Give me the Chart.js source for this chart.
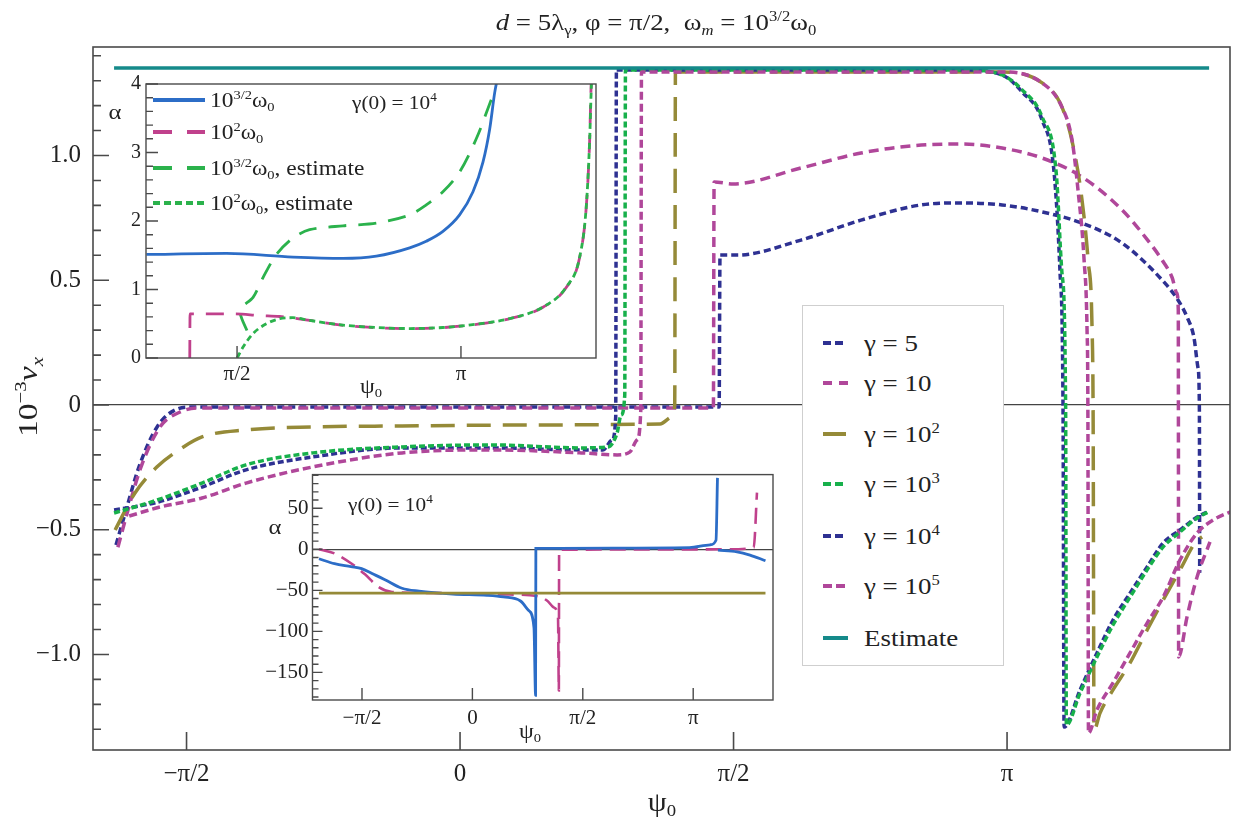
<!DOCTYPE html>
<html>
<head>
<meta charset="utf-8">
<script src="https://cdn.jsdelivr.net/npm/chart.js@4.4.1/dist/chart.umd.min.js"></script>
<style>
  html, body { margin: 0; padding: 0; background: #fff; }
  #page { position: relative; width: 1243px; height: 820px; overflow: hidden;
          font-family: "Liberation Serif", "Times New Roman", serif; color: #222; }
  canvas { position: absolute; }
  .lbl { position: absolute; white-space: nowrap; line-height: 1; transform: translate(-50%, -50%) scaleX(1.12); }
  .row { position: absolute; white-space: nowrap; line-height: 1; transform-origin: 0 50%;
         transform: translateY(-50%) scaleX(1.17); }
  sup { font-size: 62%; vertical-align: 0.62em; line-height: 0; }
  sub { font-size: 62%; vertical-align: -0.32em; line-height: 0; }
  .smp { position: absolute; height: 4px; transform: translateY(-50%); }
  #legend { position: absolute; left: 802px; top: 305px; width: 200px; height: 359px;
            background: #fff; border: 1px solid #cfcfcf; }
</style>
</head>
<body>
<div id="page">
  <canvas id="cMain" width="1243" height="820" style="left:0;top:0;width:1243px;height:820px"></canvas>
  <canvas id="cIn1" width="506" height="325" style="left:100px;top:67px;width:506px;height:325px"></canvas>
  <canvas id="cIn2" width="533" height="276" style="left:250px;top:458px;width:533px;height:276px"></canvas>

  <!-- titles -->
  <div class="lbl" style="left:656px;top:22px;font-size:24px"><i>d</i> = 5λ<sub>γ</sub>, φ = π/2,&nbsp; ω<sub><i>m</i></sub> = 10<sup>3/2</sup>ω<sub>0</sub></div>
  <div class="lbl" style="left:28px;top:397px;font-size:28px;transform:translate(-50%,-50%) rotate(-90deg) scaleX(1.2)">10<sup>−3</sup><i>v<sub>x</sub></i></div>
  <div class="lbl" style="left:662px;top:802px;font-size:27px">ψ<sub>0</sub></div>

  <!-- inset 1 texts -->
  <div class="lbl" style="left:115px;top:112px;font-size:22px">α</div>
  <div class="lbl" style="left:371px;top:386px;font-size:21px">ψ<sub>0</sub></div>
  <div class="row" style="left:352px;top:102px;font-size:19px;transform:translateY(-50%) scaleX(1.12)">γ(0) = 10<sup>4</sup></div>
  <div class="smp" style="left:153px;top:100px;width:52px;background:#2c6dc7"></div>
  <div class="row" style="left:210px;top:100px;font-size:20px">10<sup>3/2</sup>ω<sub>0</sub></div>
  <div class="smp" style="left:153px;top:132px;width:52px;background:repeating-linear-gradient(90deg,#c0418c 0 19px,transparent 19px 34px)"></div>
  <div class="row" style="left:210px;top:132px;font-size:20px">10<sup>2</sup>ω<sub>0</sub></div>
  <div class="smp" style="left:153px;top:168px;width:52px;background:repeating-linear-gradient(90deg,#2bb24c 0 19px,transparent 19px 34px)"></div>
  <div class="row" style="left:210px;top:168px;font-size:20px">10<sup>3/2</sup>ω<sub>0</sub>, estimate</div>
  <div class="smp" style="left:153px;top:203px;width:52px;background:repeating-linear-gradient(90deg,#2bb24c 0 7px,transparent 7px 11px)"></div>
  <div class="row" style="left:210px;top:203px;font-size:20px">10<sup>2</sup>ω<sub>0</sub>, estimate</div>

  <!-- inset 2 texts -->
  <div class="lbl" style="left:275px;top:527px;font-size:22px">α</div>
  <div class="lbl" style="left:530px;top:731px;font-size:21px">ψ<sub>0</sub></div>
  <div class="row" style="left:348px;top:504px;font-size:19px;transform:translateY(-50%) scaleX(1.12)">γ(0) = 10<sup>4</sup></div>

  <!-- main legend -->
  <div id="legend">
    <div class="smp" style="left:20px;top:37px;width:20px;background:repeating-linear-gradient(90deg,#2e3192 0 8px,transparent 8px 12px)"></div>
    <div class="row" style="left:61px;top:37px;font-size:23px">γ = 5</div>
    <div class="smp" style="left:20px;top:77px;width:25px;background:repeating-linear-gradient(90deg,#b0479a 0 9px,transparent 9px 16px)"></div>
    <div class="row" style="left:61px;top:77px;font-size:23px">γ = 10</div>
    <div class="smp" style="left:20px;top:128px;width:23px;background:#958a38"></div>
    <div class="row" style="left:61px;top:128px;font-size:23px">γ = 10<sup>2</sup></div>
    <div class="smp" style="left:20px;top:178px;width:20px;background:repeating-linear-gradient(90deg,#17b04b 0 8px,transparent 8px 12px)"></div>
    <div class="row" style="left:61px;top:178px;font-size:23px">γ = 10<sup>3</sup></div>
    <div class="smp" style="left:20px;top:230px;width:20px;background:repeating-linear-gradient(90deg,#2e3192 0 8px,transparent 8px 12px)"></div>
    <div class="row" style="left:61px;top:230px;font-size:23px">γ = 10<sup>4</sup></div>
    <div class="smp" style="left:20px;top:280px;width:22px;background:repeating-linear-gradient(90deg,#b0479a 0 9px,transparent 9px 13px)"></div>
    <div class="row" style="left:61px;top:280px;font-size:23px">γ = 10<sup>5</sup></div>
    <div class="smp" style="left:20px;top:332px;width:25px;background:#158a8a"></div>
    <div class="row" style="left:61px;top:332px;font-size:23px">Estimate</div>
  </div>
</div>

<script>
// ---- main panel: [psi0 (rad), 10^-3 v_x] ----
const gamma5 = [[-1.976,-0.561],[-1.918,-0.421],[-1.844,-0.248],[-1.740,-0.088],[-1.637,-0.020],[-1.533,-0.008],
  [0.0,-0.008],[1.488,-0.008],[1.493,0.601],[1.591,0.601],[1.958,0.661],[2.303,0.741],[2.648,0.802],[2.883,0.810],
  [3.113,0.802],[3.343,0.774],[3.572,0.729],[3.802,0.649],[4.032,0.501],[4.124,0.420],[4.175,0.353],[4.215,0.270],
  [4.238,0.150],[4.246,0.0],[4.248,-0.673]];
const gamma10 = [[-1.965,-0.570],[-1.907,-0.421],[-1.832,-0.248],[-1.723,-0.088],[-1.608,-0.028],[-1.493,-0.012],
  [0.0,-0.012],[1.455,-0.012],[1.459,0.894],[1.568,0.886],[1.958,0.950],[2.303,1.010],[2.648,1.042],[2.883,1.046],
  [3.113,1.030],[3.343,0.990],[3.572,0.914],[3.802,0.782],[3.950,0.660],[4.032,0.581],[4.090,0.510],[4.116,0.450],
  [4.125,0.380],[4.127,-1.010],[4.175,-0.850],[4.233,-0.689],[4.307,-0.549]];
const gamma1e2 = [[-1.981,-0.501],[-1.867,-0.353],[-1.740,-0.248],[-1.614,-0.180],[-1.482,-0.128],[-1.229,-0.100],
  [-0.844,-0.088],[-0.333,-0.084],[0.436,-0.080],[1.149,-0.076],[1.218,-0.048],[1.233,0.0],[1.237,1.335],[2.0,1.335],
  [3.113,1.335],[3.343,1.291],[3.457,1.194],[3.526,1.022],[3.572,0.822],[3.607,0.580],[3.630,0.300],[3.636,-0.060],
  [3.641,-1.303],[3.676,-1.234],[3.750,-1.142],[3.848,-1.034],[3.946,-0.902],[4.038,-0.782],[4.135,-0.661],
  [4.233,-0.541],[4.262,-0.529]];
const gamma1e3 = [[-1.987,-0.433],[-1.740,-0.381],[-1.482,-0.313],[-1.229,-0.240],[-0.844,-0.192],[-0.333,-0.168],
  [0.184,-0.160],[0.695,-0.172],[0.850,-0.168],[0.902,-0.112],[0.925,-0.040],[0.946,0.040],[0.950,1.343],[2.883,1.343],
  [3.113,1.323],[3.228,1.263],[3.343,1.154],[3.424,0.930],[3.457,0.529],[3.478,-0.008],[3.482,-1.283],[3.561,-1.154],
  [3.658,-1.010],[3.750,-0.882],[3.848,-0.770],[3.946,-0.661],[4.038,-0.569],[4.135,-0.509],[4.233,-0.453],[4.296,-0.429]];
const gamma1e4 = [[-1.987,-0.421],[-1.740,-0.390],[-1.482,-0.329],[-1.229,-0.260],[-0.844,-0.208],[-0.333,-0.172],
  [0.184,-0.172],[0.695,-0.180],[0.821,-0.180],[0.873,-0.140],[0.894,-0.048],[0.898,1.343],[2.883,1.343],[3.113,1.323],
  [3.228,1.255],[3.343,1.142],[3.412,0.930],[3.446,0.529],[3.463,-0.008],[3.469,-1.291],[3.561,-1.142],[3.658,-0.994],
  [3.750,-0.862],[3.848,-0.754],[3.946,-0.649],[4.038,-0.553],[4.135,-0.501],[4.233,-0.449],[4.290,-0.429]];
const gamma1e5 = [[-1.900,-0.445],[-1.723,-0.409],[-1.482,-0.373],[-1.229,-0.313],[-0.844,-0.248],[-0.333,-0.192],
  [0.184,-0.180],[0.695,-0.192],[0.902,-0.200],[0.976,-0.188],[1.017,-0.140],[1.038,-0.020],[1.042,1.335],[3.113,1.335],
  [3.343,1.291],[3.457,1.194],[3.515,1.062],[3.549,0.862],[3.584,0.581],[3.601,0.300],[3.606,-0.060],[3.609,-1.315],
  [3.658,-1.222],[3.750,-1.114],[3.848,-0.994],[3.946,-0.874],[4.038,-0.770],[4.135,-0.621],[4.233,-0.513],
  [4.325,-0.461],[4.451,-0.421]];
const estimate = [[-1.987,1.351],[4.302,1.351]];

// ---- upper inset: [psi0, alpha] ----
const in1Blue = [[0.935,1.512],[1.496,1.526],[1.963,1.473],[2.314,1.454],[2.548,1.487],[2.782,1.608],[2.898,1.704],
  [3.015,1.848],[3.132,2.089],[3.226,2.426],[3.296,2.859],[3.343,3.340],[3.378,3.870],[3.394,4.05]];
const in1Magenta = [[1.239,0],[1.241,0.645],[1.550,0.645],[1.730,0.620],[1.870,0.606],[2.080,0.549],[2.314,0.477],
  [2.548,0.443],[2.782,0.428],[3.015,0.443],[3.249,0.491],[3.483,0.573],[3.717,0.741],[3.880,1.030],[3.974,1.463],
  [4.020,2.185],[4.044,3.148],[4.055,3.990],[4.058,4.1]];
const in1GreenDash = [[3.354,3.77],[3.249,3.20],[3.132,2.715],[3.015,2.426],[2.898,2.234],[2.782,2.089],[2.548,1.968],
  [2.314,1.930],[2.080,1.873],[1.963,1.752],[1.847,1.512],[1.753,1.174],[1.683,0.885],[1.592,0.70],[1.648,0.36]];
const in1GreenDot = [[1.571,0],[1.613,0.16],[1.683,0.356],[1.776,0.50],[1.870,0.573],[1.963,0.588],[2.080,0.549],
  [2.314,0.480],[2.548,0.445],[2.782,0.430],[3.015,0.445],[3.249,0.493],[3.483,0.575],[3.717,0.745],[3.880,1.035],
  [3.974,1.470],[4.020,2.190],[4.044,3.150],[4.057,4.0],[4.060,4.1]];

// ---- lower inset: [psi0, alpha] ----
const in2Blue = [[-2.183,-11.5],[-1.962,-17.5],[-1.727,-21],[-1.576,-23.5],[-1.428,-29.5],[-1.244,-37],[-1.002,-47.5],
  [-0.760,-51],[-0.276,-54.5],[0.208,-56],[0.442,-58],[0.684,-63],[0.805,-75],[0.876,-95.5],[0.899,-178],[0.903,1],
  [2.0,1.5],[3.089,2],[3.381,5.5],[3.466,11],[3.487,87],[3.490,null],[3.494,-1],[3.765,-3],[3.950,-7],[4.170,-14]];
const in2Magenta = [[-2.183,0],[-1.962,-5],[-1.727,-17],[-1.528,-30.5],[-1.336,-46],[-1.144,-52],[-0.760,-53],
  [0.442,-55],[0.919,-57],[1.069,-63],[1.161,-71],[1.218,-83],[1.230,-172],[1.234,-0.5],[2.5,-0.3],[3.6,0],
  [4.002,2],[4.049,69]];
const in2Olive = [[-2.183,-53.5],[4.170,-53.5]];

// ---- ticks ----
const psiTicks = [-Math.PI / 2, 0, Math.PI / 2, Math.PI];
const psiLabels = ['−π/2', '0', 'π/2', 'π'];
const in1PsiTicks = [Math.PI / 2, Math.PI];
const in1PsiLabels = ['π/2', 'π'];

const serif = '"Liberation Serif", "Times New Roman", serif';
Chart.defaults.font.family = serif;
Chart.defaults.color = '#222';

const minus = s => s.replace('-', '−');

// white box, inward ticks, frame
const frame = {
  id: 'frame',
  beforeDraw(chart, args, o) {
    if (!o.fill) return;
    const a = chart.chartArea;
    chart.ctx.save();
    chart.ctx.fillStyle = '#fff';
    chart.ctx.fillRect(a.left, a.top, a.width, a.height);
    chart.ctx.restore();
  },
  afterDatasetsDraw(chart, args, o) {
    const { ctx, chartArea: a, scales } = chart;
    ctx.save();
    ctx.strokeStyle = '#4a4a4a';
    ctx.lineWidth = o.width || 1.5;
    ctx.beginPath();
    scales.x.ticks.forEach(t => {
      const px = scales.x.getPixelForValue(t.value);
      ctx.moveTo(px, a.bottom);
      ctx.lineTo(px, a.bottom - o.xLen);
    });
    scales.y.ticks.forEach(t => {
      const py = scales.y.getPixelForValue(t.value);
      ctx.moveTo(a.left, py);
      ctx.lineTo(a.left + (t.label !== '' ? o.yMajor : o.yMinor), py);
    });
    ctx.stroke();
    ctx.strokeRect(a.left, a.top, a.width, a.height);
    ctx.restore();
  }
};

function line(points, color, width, dash, extra) {
  return Object.assign({
    data: points.map(p => ({ x: p[0], y: p[1] })),
    borderColor: color,
    borderWidth: width,
    borderDash: dash,
    pointRadius: 0,
    fill: false,
    spanGaps: false,
    cubicInterpolationMode: 'monotone'
  }, extra || {});
}

function axes(o) {
  return {
    x: {
      type: 'linear', min: o.xMin, max: o.xMax,
      afterBuildTicks: s => { s.ticks = o.xTicks.map(v => ({ value: v })); },
      afterFit: s => { s.height = o.xH; },
      ticks: { autoSkip: false, maxRotation: 0, padding: o.xPad, font: { size: o.xFont },
               callback: (v, i) => o.xLabels[i] },
      grid: { display: false, drawTicks: false },
      border: { display: false }
    },
    y: {
      type: 'linear', min: o.yMin, max: o.yMax,
      afterBuildTicks: s => { s.ticks = o.yTicks.map(v => ({ value: v })); },
      afterFit: s => { s.width = o.yW; },
      ticks: { autoSkip: false, padding: o.yPad, font: { size: o.yFont }, callback: o.yLabel },
      grid: {
        drawTicks: false,
        lineWidth: 1.2,
        color: c => (o.zeroLine && c.tick && c.tick.value === 0) ? '#444' : 'rgba(0,0,0,0)'
      },
      border: { display: false }
    }
  };
}

const vTicks = [];
for (let k = -13; k <= 14; k++) vTicks.push(k / 10);
const in1Ticks = [];
for (let k = 0; k <= 20; k++) in1Ticks.push(k / 5);
const in2Ticks = [];
for (let k = -18; k <= 9; k++) in2Ticks.push(k * 10);

// main chart
new Chart(document.getElementById('cMain'), {
  type: 'line',
  data: {
    datasets: [
      line(estimate, '#158a8a', 3.5, []),
      line(gamma1e5, '#b0479a', 3.5, [8, 4]),
      line(gamma1e3, '#17b04b', 3.5, [6, 3]),
      line(gamma1e4, '#2e3192', 3.5, [6, 3]),
      line(gamma1e2, '#958a38', 3.5, [24, 12]),
      line(gamma10, '#b0479a', 3.5, [10, 6]),
      line(gamma5, '#2e3192', 3.5, [7, 4])
    ]
  },
  options: {
    responsive: false,
    animation: false,
    layout: { padding: { left: 0, top: 47, right: 13, bottom: 0 } },
    plugins: {
      legend: { display: false },
      tooltip: { enabled: false },
      frame: { xLen: 18, yMajor: 16, yMinor: 8, width: 1.6 }
    },
    scales: axes({
      xMin: -2.108, xMax: 4.422, xTicks: psiTicks, xLabels: psiLabels, xH: 70, xPad: 9, xFont: 25,
      yMin: -1.383, yMax: 1.435, yTicks: vTicks, yW: 93, yPad: 12, yFont: 25, zeroLine: true,
      yLabel: v => {
        const k = Math.round(v * 10);
        if (k % 5 !== 0) return '';
        return k === 0 ? '0' : minus(v.toFixed(1));
      }
    })
  },
  plugins: [frame]
});

// upper inset
new Chart(document.getElementById('cIn1'), {
  type: 'line',
  data: {
    datasets: [
      line(in1GreenDot, '#2bb24c', 2.8, [6, 4]),
      line(in1Magenta, '#c0418c', 2.8, [18, 12]),
      line(in1GreenDash, '#2bb24c', 2.8, [18, 12], { cubicInterpolationMode: 'default', tension: 0.3 }),
      line(in1Blue, '#2c6dc7', 2.8, [])
    ]
  },
  options: {
    responsive: false,
    animation: false,
    layout: { padding: { left: 0, top: 14, right: 10, bottom: 0 } },
    plugins: {
      legend: { display: false },
      tooltip: { enabled: false },
      frame: { fill: true, xLen: 12, yMajor: 12, yMinor: 7, width: 1.4 }
    },
    scales: axes({
      xMin: 0.932, xMax: 4.089, xTicks: in1PsiTicks, xLabels: in1PsiLabels, xH: 34, xPad: 4, xFont: 21,
      yMin: 0, yMax: 4, yTicks: in1Ticks, yW: 46, yPad: 5, yFont: 20, zeroLine: false,
      yLabel: v => (Math.round(v * 5) % 5 === 0 ? String(Math.round(v)) : '')
    })
  },
  plugins: [frame]
});

// lower inset
new Chart(document.getElementById('cIn2'), {
  type: 'line',
  data: {
    datasets: [
      line(in2Olive, '#958a38', 2.8, []),
      line(in2Blue, '#2c6dc7', 2.8, []),
      line(in2Magenta, '#c0418c', 2.6, [16, 8])
    ]
  },
  options: {
    responsive: false,
    animation: false,
    layout: { padding: { left: 0, top: 14, right: 10, bottom: 0 } },
    plugins: {
      legend: { display: false },
      tooltip: { enabled: false },
      frame: { fill: true, xLen: 12, yMajor: 10, yMinor: 6, width: 1.4 }
    },
    scales: axes({
      xMin: -2.275, xMax: 4.277, xTicks: psiTicks, xLabels: psiLabels, xH: 34, xPad: 6, xFont: 21,
      yMin: -183.6, yMax: 91, yTicks: in2Ticks, yW: 62.5, yPad: 4, yFont: 21, zeroLine: true,
      yLabel: v => (Math.round(v) % 50 === 0 ? minus(String(Math.round(v))) : '')
    })
  },
  plugins: [frame]
});
</script>
</body>
</html>
